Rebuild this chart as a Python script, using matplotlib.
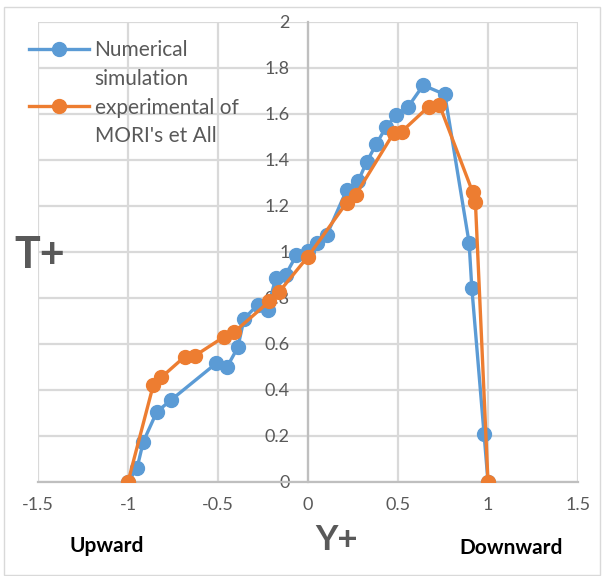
import matplotlib.pyplot as plt
from matplotlib.lines import Line2D
from matplotlib.patches import Rectangle

plt.rcParams['font.family'] = ['Lato', 'DejaVu Sans']

# Simulación numérica
y_num = [-1.0, -0.95, -0.915, -0.84, -0.76, -0.51, -0.45, -0.39, -0.355, -0.28,
         -0.225, -0.18, -0.125, -0.065, 0.0, 0.05, 0.105, 0.215, 0.28, 0.325,
         0.38, 0.435, 0.49, 0.555, 0.64, 0.76, 0.895, 0.91, 0.978, 1.0]
t_num = [0.0, 0.06, 0.175, 0.305, 0.357, 0.516, 0.50, 0.585, 0.71, 0.77,
         0.75, 0.885, 0.90, 0.985, 1.005, 1.04, 1.075, 1.27, 1.31, 1.39,
         1.47, 1.545, 1.595, 1.63, 1.725, 1.685, 1.04, 0.845, 0.21, 0.0]

# Datos experimentales (Mori)
y_exp = [-1.0, -0.86, -0.815, -0.685, -0.63, -0.465, -0.41, -0.215, -0.16, 0.0,
         0.215, 0.265, 0.475, 0.52, 0.67, 0.73, 0.915, 0.93, 1.0]
t_exp = [0.0, 0.42, 0.455, 0.545, 0.548, 0.632, 0.652, 0.785, 0.827, 0.98,
         1.215, 1.248, 1.516, 1.523, 1.632, 1.64, 1.26, 1.218, 0.0]

x_ticks = [-1.5, -1, -0.5, 0, 0.5, 1, 1.5]
x_labels = ['-1.5', '-1', '-0.5', '0', '0.5', '1', '1.5']
y_ticks = [0, 0.2, 0.4, 0.6, 0.8, 1, 1.2, 1.4, 1.6, 1.8, 2]
y_labels = ['0', '0.2', '0.4', '0.6', '0.8', '1', '1.2', '1.4', '1.6', '1.8', '2']

azul = '#5B9BD5'
naranja = '#ED7D31'
gris = '#595959'
rejilla = '#D9D9D9'

fig = plt.figure(figsize=(6.07, 5.76), dpi=100)
ax = fig.add_axes([38 / 607, 1 - 482 / 576, 540 / 607, 460 / 576])

ax.plot(y_num, t_num, color=azul, lw=2.4, marker='o', ms=10, zorder=3)
ax.plot(y_exp, t_exp, color=naranja, lw=2.4, marker='o', ms=10, zorder=4)

ax.set_xlim(-1.5, 1.5)
ax.set_ylim(0, 2)
ax.set_xticks(x_ticks, x_labels)
ax.set_yticks(y_ticks, y_labels)
ax.grid(True, color=rejilla, lw=1.6, zorder=0)
ax.set_axisbelow(True)

for lado in ['top', 'right']:
    ax.spines[lado].set_visible(False)
ax.spines['left'].set_position(('data', 0))
ax.spines['left'].set_color('#BFBFBF')
ax.spines['bottom'].set_color('#BFBFBF')
ax.spines['left'].set_linewidth(1.6)
ax.spines['bottom'].set_linewidth(1.6)
ax.tick_params(length=0, labelsize=13, labelcolor=gris)
ax.tick_params(axis='x', pad=11)
ax.tick_params(axis='y', pad=13)

# Leyenda: cada etiqueta ocupa dos líneas, el marcador va en la primera
handles = [Line2D([], [], color=azul, lw=2.4, marker='o', ms=10),
           Line2D([], [], color='none'),
           Line2D([], [], color=naranja, lw=2.4, marker='o', ms=10),
           Line2D([], [], color='none')]
labels = ['Numerical', 'simulation', "experimental of", "MORI's et All"]
fig.legend(handles, labels, loc='upper left', bbox_to_anchor=(29 / 607, 1 - 40 / 576),
           frameon=False, fontsize=15, labelcolor=gris, handlelength=2.9,
           handletextpad=0.25, labelspacing=0.42, borderpad=0, borderaxespad=0)

fig.text(40 / 607, 1 - 255 / 576, 'T+', fontsize=31, fontweight='bold', color=gris,
         ha='center', va='center')
fig.text(337 / 607, 1 - 540 / 576, 'Y+', fontsize=25, fontweight='bold', color=gris,
         ha='center', va='center')
fig.text(107 / 607, 1 - 546 / 576, 'Upward', fontsize=15, fontweight='bold',
         color='black', ha='center', va='center')
fig.text(511 / 607, 1 - 548 / 576, 'Downward', fontsize=15, fontweight='bold',
         color='black', ha='center', va='center')

# Marco exterior
fig.add_artist(Rectangle((4 / 607, 1 - 575 / 576), 596 / 607, 568 / 576,
                         transform=fig.transFigure, fill=False, ec=rejilla, lw=1))

fig.savefig('out.png', dpi=100)
